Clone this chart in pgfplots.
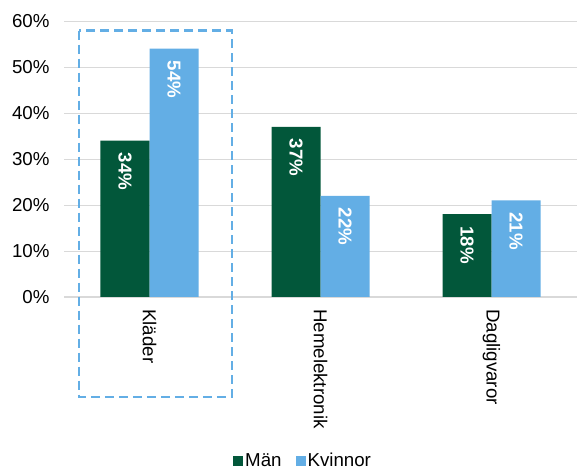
\documentclass[border=0pt]{standalone}
\usepackage{pgfplots}
\pgfplotsset{compat=1.18}
\usepackage{fontspec}
\setmainfont{Liberation Sans}
\definecolor{man}{HTML}{02573A}
\definecolor{kvinna}{HTML}{63AEE5}
\definecolor{gridgray}{HTML}{D9D9D9}
\begin{document}
\begin{tikzpicture}
\begin{axis}[
  name=ax,
  scale only axis,
  width=513bp, height=276bp,
  xmin=-0.5, xmax=2.5,
  ymin=0, ymax=60,
  ybar=0pt, bar width=49bp,
  xtick={0,1,2},
  xticklabels={Kläder,Hemelektronik,Dagligvaror},
  ytick={0,10,20,30,40,50,60},
  yticklabels={0\%,10\%,20\%,30\%,40\%,50\%,60\%},
  major tick length=0pt,
  axis line style={draw=none},
  xmajorgrids=false,
  ymajorgrids=true,
  major grid style={draw=gridgray, line width=0.8bp},
  tick label style={font=\fontsize{18.7bp}{22bp}\selectfont, text=black},
  xticklabel style={rotate=-90, anchor=west, inner xsep=12bp},
  yticklabel style={xshift=-11bp},
  clip=false,
  nodes near coords={\pgfmathprintnumber[assume math mode=true]{\pgfplotspointmeta}\%},
  every node near coord/.append style={rotate=-90, anchor=west, inner xsep=0pt, xshift=12bp, text=white, font=\fontsize{18.7bp}{22bp}\selectfont\bfseries},
  legend columns=2,
  legend style={at={(0.466,-0.594)}, anchor=center, draw=none, fill=none,
    font=\fontsize{18.7bp}{22bp}\selectfont, inner sep=0pt,
    /tikz/every even column/.append style={column sep=12bp}},
  legend image code/.code={\fill[#1] (0bp,-5bp) rectangle (10bp,5bp);},
]
\draw[gridgray, line width=1bp] (axis cs:-0.5,0) -- (axis cs:2.5,0);
\addplot[fill=man, draw=none] coordinates {(0,34) (1,37) (2,18)};
\addplot[fill=kvinna, draw=none] coordinates {(0,54) (1,22) (2,21)};
\legend{Män,Kvinnor}
\draw[kvinna, line width=2.5bp, dash pattern=on 9bp off 5bp]
  (axis cs:-0.412,57.9) rectangle (axis cs:0.482,-21.7);
\end{axis}
\pgfresetboundingbox
\path ([xshift=-64bp,yshift=-173bp]ax.south west) rectangle ([yshift=21bp]ax.north east);
\end{tikzpicture}
\end{document}
